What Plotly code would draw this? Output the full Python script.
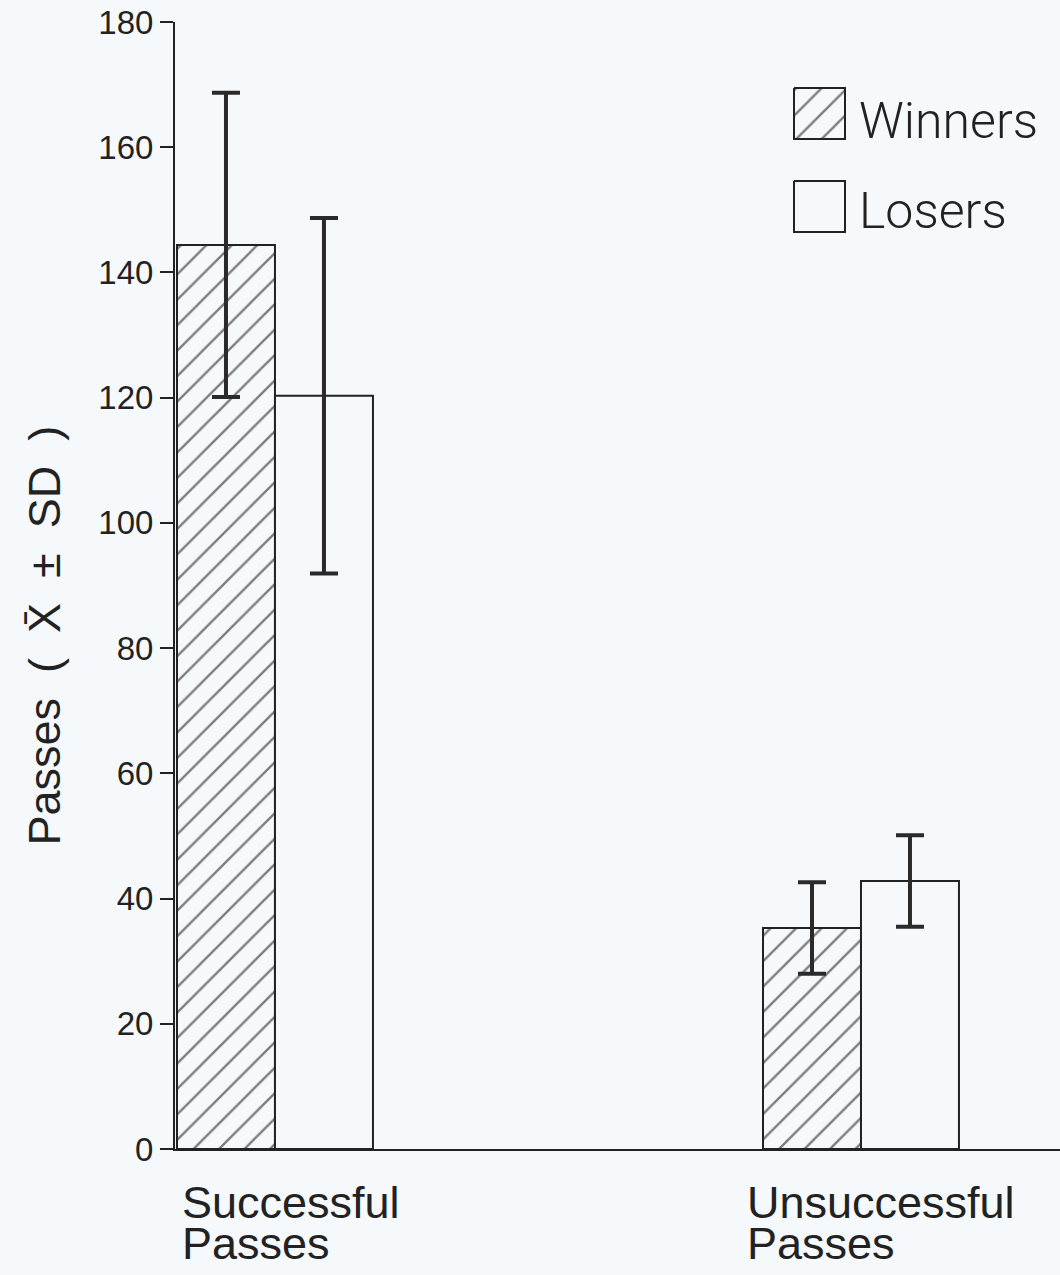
import plotly.graph_objects as go

# Mean passes per match (with standard deviation) for winning and losing teams
categories = ["Successful\nPasses", "Unsuccessful\nPasses"]
winners_mean = [144.4, 35.3]
winners_sd = [24.3, 7.3]
losers_mean = [120.3, 42.8]
losers_sd = [28.4, 7.3]
y_ticks = [0, 20, 40, 60, 80, 100, 120, 140, 160, 180]

INK = "#222222"
BG = "#f6f9fb"
FONT = "Liberation Sans, Arial, Helvetica, sans-serif"
LIGHT_FONT = "Roboto, Open Sans, Liberation Sans, sans-serif"
NB = "\u00a0"

BAR_W = 0.1672
x_pos = list(range(len(categories)))

fig = go.Figure()

fig.add_trace(go.Bar(
    x=x_pos, y=winners_mean, name="Winners",
    offset=-BAR_W, width=BAR_W,
    marker=dict(color=BG, line=dict(color=INK, width=2),
                pattern=dict(shape="/", size=18, solidity=0.13,
                             fgcolor="#000000", bgcolor=BG, fillmode="overlay")),
    error_y=dict(type="data", array=winners_sd, visible=True,
                 color="#2a2a2a", thickness=4, width=14),
    showlegend=False,
))
fig.add_trace(go.Bar(
    x=x_pos, y=losers_mean, name="Losers",
    offset=0, width=BAR_W,
    marker=dict(color=BG, line=dict(color=INK, width=2)),
    error_y=dict(type="data", array=losers_sd, visible=True,
                 color="#2a2a2a", thickness=4, width=14),
    showlegend=False,
))

# Key: hatched and plain boxes drawn on an overlay axis measured in pixels
key_items = [("Winners", "/", 88, 7), ("Losers", "", 181, 4)]
for label, shape, top, text_drop in key_items:
    x0, x1, y0, y1 = 794, 845, top, top + 51
    fig.add_trace(go.Scatter(
        x=[x0, x1, x1, x0, x0], y=[y0, y0, y1, y1, y0],
        xaxis="x2", yaxis="y2", mode="lines", fill="toself",
        fillcolor=BG,
        fillpattern=dict(shape=shape, size=18, solidity=0.13,
                         fgcolor="#000000", bgcolor=BG) if shape else None,
        line=dict(color=INK, width=2), showlegend=False, hoverinfo="skip",
    ))
    fig.add_annotation(
        x=857, y=(y0 + y1) / 2 + text_drop, xref="x2", yref="y2", text=label,
        showarrow=False, xanchor="left", yanchor="middle",
        font=dict(family=LIGHT_FONT, size=50, color=INK, weight=300),
    )

# Category labels: two left-aligned lines under each bar pair
label_shift = [-95, -116]
for xi, cat, dx in zip(x_pos, categories, label_shift):
    for line_no, line in enumerate(cat.split("\n")):
        fig.add_annotation(
            x=xi, y=0, xref="x", yref="y", text=line,
            showarrow=False, xanchor="left", yanchor="middle",
            xshift=dx, yshift=-53 - 41 * line_no,
            font=dict(family=FONT, size=45, color=INK),
        )

# Vertical axis title
title_text = f"Passes{NB}{NB}({NB}{NB}X\u0304{NB}{NB}\u00b1{NB}{NB}SD{NB}{NB})"
fig.add_annotation(
    x=0, y=82.0, xref="paper", yref="y", text=title_text,
    showarrow=False, textangle=-90, xanchor="center", yanchor="middle",
    xshift=-130,
    font=dict(family=FONT, size=45, color=INK),
)

fig.update_layout(
    width=1060, height=1275,
    margin=dict(l=175, r=0, t=22, b=126),
    paper_bgcolor=BG, plot_bgcolor=BG,
    barmode="overlay",
    font=dict(family=FONT, color=INK),
    xaxis=dict(range=[-0.1706, 1.3396], showticklabels=False, ticks="",
               showgrid=False, zeroline=False, showline=True,
               linecolor=INK, linewidth=2),
    yaxis=dict(range=[0, 180], tickvals=y_ticks, ticks="outside",
               ticklen=13, tickwidth=1.5, tickcolor=INK,
               showgrid=False, zeroline=False, showline=True,
               linecolor=INK, linewidth=2,
               tickfont=dict(family=FONT, size=33, color=INK)),
    xaxis2=dict(overlaying="x", range=[175, 1060], visible=False),
    yaxis2=dict(overlaying="y", range=[1149, 22], visible=False),
)

fig.write_html("out.html")
